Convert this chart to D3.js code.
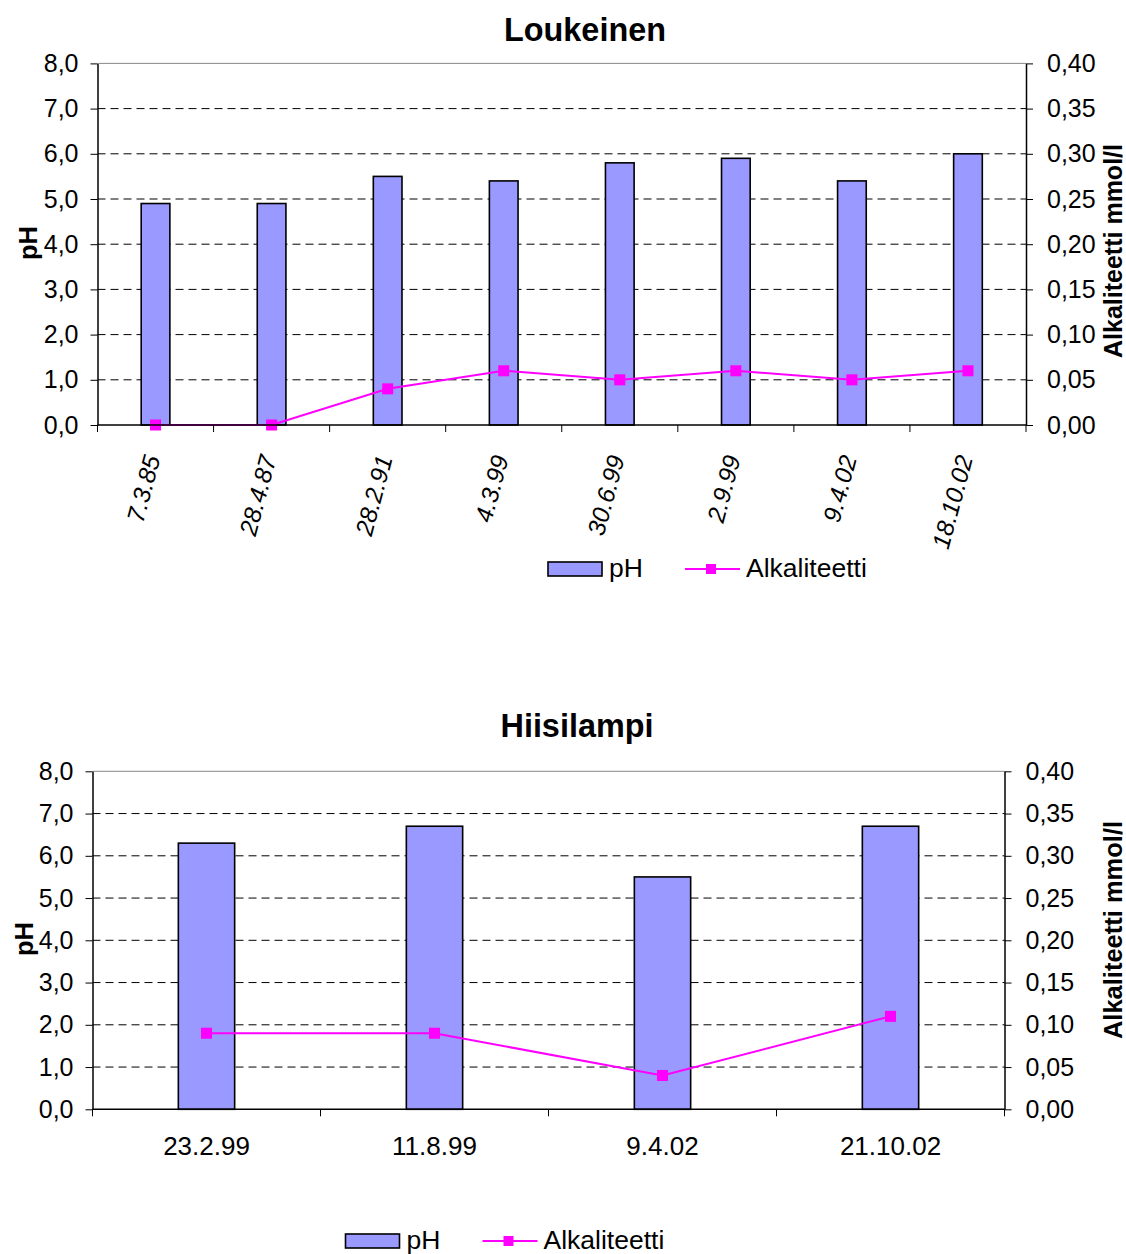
<!DOCTYPE html>
<html><head><meta charset="utf-8">
<script src="https://cdn.jsdelivr.net/npm/d3@7"></script>
<style>
html,body{margin:0;padding:0;background:#fff;}
svg text{font-family:"Liberation Sans",Arial,Helvetica,sans-serif;fill:#000;}
</style></head><body>
<svg id="chart" width="1126" height="1254"></svg>
<script>
// ---- data ----
const loukeinenDates = ["7.3.85","28.4.87","28.2.91","4.3.99","30.6.99","2.9.99","9.4.02","18.10.02"];
const loukeinenPH = [4.9, 4.9, 5.5, 5.4, 5.8, 5.9, 5.4, 6.0];
const loukeinenAlk = [0.00, 0.00, 0.04, 0.06, 0.05, 0.06, 0.05, 0.06];

const hiisiDates = ["23.2.99","11.8.99","9.4.02","21.10.02"];
const hiisiPH = [6.3, 6.7, 5.5, 6.7];
const hiisiAlk = [0.09, 0.09, 0.04, 0.11];

const phTicks = [0,1,2,3,4,5,6,7,8];
const alkTicks = [0,0.05,0.10,0.15,0.20,0.25,0.30,0.35,0.40];
const seriesNames = ["pH","Alkaliteetti"];
const leftTitle = "pH";
const rightTitle = "Alkaliteetti mmol/l";

const svg = d3.select("#chart");
const fmt1 = d => d3.format(".1f")(d).replace(".", ",");
const fmt2 = d => d3.format(".2f")(d).replace(".", ",");

function drawChart(o) {
  const g = svg.append("g");
  const x = d3.scaleBand().domain(o.cats).range([o.left, o.right]).paddingInner(0).paddingOuter(0);
  const y = d3.scaleLinear().domain([0, 8]).range([o.bottom, o.top]);
  const y2 = d3.scaleLinear().domain([0, 0.4]).range([o.bottom, o.top]);

  // gridlines
  g.append("g").selectAll("line").data(phTicks.filter(t => t > 0 && t < 8)).join("line")
    .attr("x1", o.left).attr("x2", o.right)
    .attr("y1", d => y(d)).attr("y2", d => y(d))
    .attr("stroke", "#000").attr("stroke-width", 1).attr("stroke-dasharray", "8,5");
  g.append("line").attr("x1", o.left).attr("x2", o.right).attr("y1", y(8)).attr("y2", y(8))
    .attr("stroke", "#888").attr("stroke-width", 1);

  // bars
  const bw = x.bandwidth() * 0.247;
  g.append("g").selectAll("rect").data(o.ph).join("rect")
    .attr("x", (d, i) => x(o.cats[i]) + x.bandwidth() / 2 - bw / 2)
    .attr("y", d => y(d))
    .attr("width", bw)
    .attr("height", d => o.bottom - y(d))
    .attr("fill", "#9999FF").attr("stroke", "#000").attr("stroke-width", 1.6);

  // line
  const line = d3.line().x((d, i) => x(o.cats[i]) + x.bandwidth() / 2).y(d => y2(d));
  g.append("path").datum(o.alk).attr("d", line).attr("fill", "none")
    .attr("stroke", "#FF00FF").attr("stroke-width", 2);
  g.append("g").selectAll("rect").data(o.alk).join("rect")
    .attr("x", (d, i) => x(o.cats[i]) + x.bandwidth() / 2 - 5.5)
    .attr("y", d => y2(d) - 5.5)
    .attr("width", 11).attr("height", 11).attr("fill", "#FF00FF");

  // left axis
  const la = g.append("g").attr("transform", `translate(${o.left},0)`)
    .call(d3.axisLeft(y).tickValues(phTicks).tickFormat(fmt1).tickSize(7).tickSizeOuter(0).tickPadding(12));
  // right axis
  const ra = g.append("g").attr("transform", `translate(${o.right},0)`)
    .call(d3.axisRight(y2).tickValues(alkTicks).tickFormat(fmt2).tickSize(7).tickSizeOuter(0).tickPadding(14));
  [la, ra].forEach(a => {
    a.selectAll("path.domain").attr("stroke", "#000").attr("stroke-width", 1.5);
    a.selectAll(".tick line").attr("stroke", "#000").attr("stroke-width", 1);
    a.selectAll(".tick text").attr("font-size", 25).attr("fill", "#000")
      .attr("font-family", '"Liberation Sans",Arial,sans-serif');
  });

  // bottom axis line and ticks
  g.append("line").attr("x1", o.left).attr("x2", o.right).attr("y1", o.bottom).attr("y2", o.bottom)
    .attr("stroke", "#000").attr("stroke-width", 1.5);
  const bounds = o.cats.map(c => x(c)).concat([o.right]);
  g.append("g").selectAll("line").data(bounds).join("line")
    .attr("x1", d => d).attr("x2", d => d).attr("y1", o.bottom).attr("y2", o.bottom + 7)
    .attr("stroke", "#000").attr("stroke-width", 1);

  // category labels
  if (o.rotated) {
    g.append("g").selectAll("text").data(o.cats).join("text")
      .attr("transform", c => `translate(${x(c) + x.bandwidth() / 2 + 5},${o.bottom + 33}) rotate(-75)`)
      .attr("text-anchor", "end").attr("font-size", 24.5).attr("font-style", "italic").text(c => c);
  } else {
    g.append("g").selectAll("text").data(o.cats).join("text")
      .attr("x", c => x(c) + x.bandwidth() / 2).attr("y", o.bottom + 46)
      .attr("text-anchor", "middle").attr("font-size", 26).text(c => c);
  }

  // titles
  g.append("text").attr("x", o.titleX).attr("y", o.titleY).attr("text-anchor", "middle")
    .attr("font-size", 32.4).attr("font-weight", "bold").text(o.title);
  g.append("text").attr("transform", `translate(${o.leftTitleX},${o.leftTitleY}) rotate(-90)`)
    .attr("text-anchor", "middle").attr("font-size", 25.5).attr("font-weight", "bold").text(leftTitle);
  g.append("text").attr("transform", `translate(${o.rightTitleX},${o.rightTitleY}) rotate(-90)`)
    .attr("text-anchor", "middle").attr("font-size", o.rightTitleSize).attr("font-weight", "bold").text(rightTitle);

  // legend
  const lg = g.append("g").attr("transform", `translate(${o.legX},${o.legY})`);
  lg.append("rect").attr("x", 0).attr("y", -7).attr("width", 54).attr("height", 14)
    .attr("fill", "#9999FF").attr("stroke", "#000").attr("stroke-width", 1.6);
  lg.append("text").attr("x", 61).attr("y", 8).attr("font-size", 26.5).text(seriesNames[0]);
  lg.append("line").attr("x1", 137).attr("x2", 192).attr("y1", 0).attr("y2", 0)
    .attr("stroke", "#FF00FF").attr("stroke-width", 2);
  lg.append("rect").attr("x", 163 - 5).attr("y", -5).attr("width", 10).attr("height", 10).attr("fill", "#FF00FF");
  lg.append("text").attr("x", 198).attr("y", 8).attr("font-size", 26.5).text(seriesNames[1]);
}

drawChart({
  cats: loukeinenDates, ph: loukeinenPH, alk: loukeinenAlk,
  left: 97.5, right: 1026, top: 63.4, bottom: 425, rotated: true,
  title: "Loukeinen", titleX: 585, titleY: 41,
  leftTitleX: 37, leftTitleY: 243, rightTitleX: 1122, rightTitleY: 251, rightTitleSize: 25,
  legX: 548, legY: 569
});
drawChart({
  cats: hiisiDates, ph: hiisiPH, alk: hiisiAlk,
  left: 92.5, right: 1004.5, top: 771.3, bottom: 1109.3, rotated: false,
  title: "Hiisilampi", titleX: 577, titleY: 737,
  leftTitleX: 33, leftTitleY: 939, rightTitleX: 1122, rightTitleY: 930, rightTitleSize: 25.5,
  legX: 345.5, legY: 1241
});
</script>
</body></html>
